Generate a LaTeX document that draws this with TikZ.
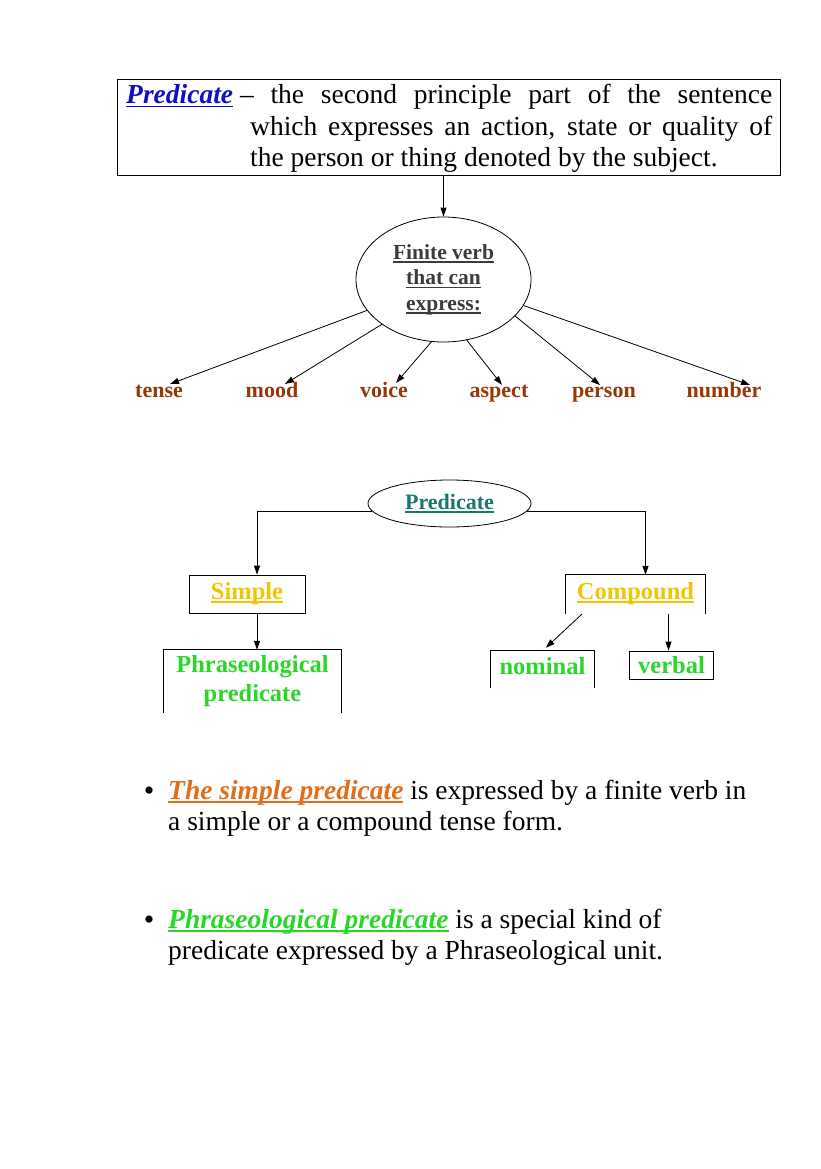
\documentclass[tikz,border=0pt]{standalone}
\usepackage{fontspec}
\setmainfont{Liberation Serif}
\usetikzlibrary{shapes.geometric,arrows.meta}

\definecolor{predblue}{RGB}{15,15,200}
\definecolor{labelbrown}{RGB}{150,55,5}
\definecolor{verbgrey}{RGB}{60,60,60}
\definecolor{predteal}{RGB}{25,120,110}
\definecolor{typegold}{RGB}{245,196,0}
\definecolor{leafgreen}{RGB}{40,215,40}
\definecolor{simpleorange}{RGB}{225,110,25}

% underline close to the baseline, as in the word-processor original
\newcommand{\undl}[1]{\leavevmode\setbox0\hbox{#1}\rlap{\rule[-3.5pt]{\wd0}{1.6pt}}\box0}

\begin{document}
\begin{tikzpicture}[x=1pt, y=-1pt,
    box/.style={draw=black, line width=0.8pt, inner sep=0pt, align=center},
    openbox/.style={inner sep=0pt, align=center},
    oval/.style={ellipse, draw=black, line width=0.8pt, inner sep=0pt, align=center},
    arr/.style={-{Triangle[length=9pt,width=6pt]}, line width=0.8pt, draw=black},
    frame/.style={line width=0.8pt, draw=black},
    deftext/.style={font=\fontsize{27.5}{32}\selectfont, anchor=base west, inner sep=0pt},
    kind/.style={font=\fontsize{22}{26}\selectfont\bfseries\color{labelbrown}, anchor=base, inner sep=0pt},
    typetext/.style={font=\fontsize{24.5}{29}\selectfont\bfseries\color{typegold}, text height=16pt, text depth=6pt},
    leaftext/.style={font=\fontsize{24.5}{29}\selectfont\bfseries\color{leafgreen}},
    bodytext/.style={font=\fontsize{27.5}{32}\selectfont, anchor=base west, inner sep=0pt},
    dot/.style={font=\fontsize{30}{32}\selectfont, anchor=base, inner sep=0pt}
]
    \useasboundingbox (0,0) rectangle (821,1169);

    % Definition box
    \node[box, minimum width=663, minimum height=96, anchor=north west] (defbox) at (117,79) {};
    \node[deftext, font=\fontsize{27.5}{32}\selectfont\bfseries\itshape\color{predblue}] (pname) at (126,104) {\undl{Predicate}};
    \node[deftext] (defline1) at (240,104) {\makebox[532pt][s]{– the second principle part of the sentence}};
    \node[deftext] (defline2) at (250,136) {\makebox[522pt][s]{which expresses an action, state or quality of}};
    \node[deftext] (defline3) at (250,167) {the person or thing denoted by the subject.};

    % Finite verb oval
    \node[oval, minimum width=175, minimum height=125, font=\fontsize{21.5}{25.5}\selectfont\bfseries\color{verbgrey}] (finite) at (443.5,279.5)
        {\undl{Finite verb}\\\undl{that can}\\\undl{express:}};
    \draw[arr] (defbox.south -| finite.north) -- (finite.north);

    % Categories
    \node[kind] (tense) at (159,397) {tense};
    \node[kind] (mood) at (272,397) {mood};
    \node[kind] (voice) at (384,397) {voice};
    \node[kind] (aspect) at (499,397) {aspect};
    \node[kind] (person) at (604,397) {person};
    \node[kind] (number) at (724,397) {number};

    \draw[arr] (finite.202) -- ([shift={(11,-13)}]tense.base);
    \draw[arr] (finite.216) -- ([shift={(13,-13)}]mood.base);
    \draw[arr] (finite.259) -- ([shift={(12,-14)}]voice.base);
    \draw[arr] (finite.291) -- ([shift={(3,-12)}]aspect.base);
    \draw[arr] (finite.333) -- ([shift={(-4,-12)}]person.base);
    \draw[arr] (finite.342) -- ([shift={(26,-12)}]number.base);

    % Predicate oval and its kinds
    \node[oval, minimum width=163, minimum height=47, font=\fontsize{22}{26}\selectfont\bfseries\color{predteal}] (pred) at (449.5,503.5) {\undl{Predicate}};

    \node[box, typetext, minimum width=116, minimum height=38] (simple) at (247,594) {\undl{Simple}};
    \node[openbox, typetext, minimum width=139, minimum height=39] (compound) at (635.5,594.5) {\undl{Compound}};
    \draw[frame] (compound.south west) |- (compound.north east) -- (compound.south east);

    \draw[arr] (pred.186) -| ([xshift=10pt]simple.north);
    \draw[arr] (pred.354) -| ([xshift=10pt]compound.north);

    % Simple branch
    \node[openbox, leaftext, minimum width=177, minimum height=63] (phras) at (252.5,681.5) {Phraseological\\predicate};
    \draw[frame] (phras.south west) |- (phras.north east) -- (phras.south east);
    \draw[arr] ([xshift=10pt]simple.south) -- ([xshift=10pt]simple.south |- phras.north);

    % Compound branch
    \node[openbox, leaftext, text height=16pt, text depth=6pt, minimum width=103, minimum height=37] (nominal) at (542.5,669.5) {nominal};
    \draw[frame] (nominal.south west) |- (nominal.north east) -- (nominal.south east);
    \node[box, leaftext, text height=19pt, text depth=2pt, minimum width=84, minimum height=28] (verbal) at (671.5,665) {verbal};

    \draw[arr] ([xshift=16pt]compound.south west) -- ([shift={(55,-3)}]nominal.north west);
    \draw[arr] ([xshift=33pt]compound.south) -- ([xshift=33pt]compound.south |- verbal.north);

    % Notes
    \node[dot] (dot1) at (149,800) {•};
    \node[bodytext] (note1a) at (168,799) {{\bfseries\itshape\color{simpleorange}\undl{The simple predicate}} is expressed by a finite verb in};
    \node[bodytext] (note1b) at (168,830) {a simple or a compound tense form.};

    \node[dot] (dot2) at (149,929) {•};
    \node[bodytext] (note2a) at (168,928) {{\bfseries\itshape\color{leafgreen}\undl{Phraseological predicate}} is a special kind of};
    \node[bodytext] (note2b) at (168,959) {predicate expressed by a Phraseological unit.};

\end{tikzpicture}
\end{document}
